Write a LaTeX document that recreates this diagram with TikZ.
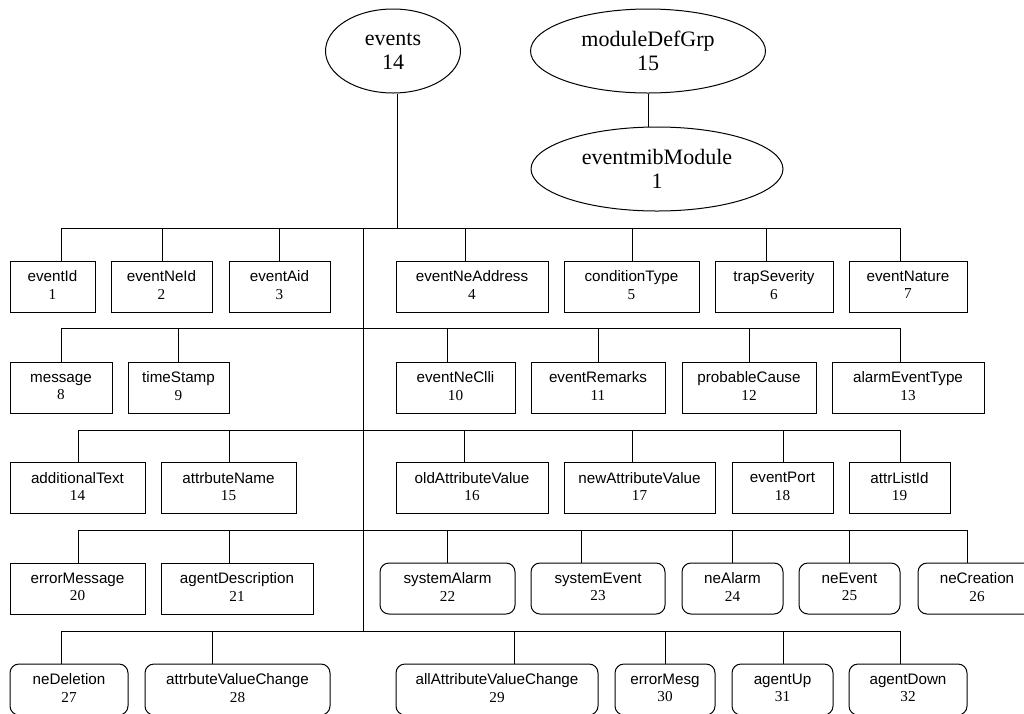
\documentclass[tikz,border=0pt]{standalone}
\usepackage{fontspec}
\setmainfont{Liberation Serif}
\newfontfamily\sansf{Liberation Sans}
\usetikzlibrary{shapes.geometric}
\begin{document}
\begin{tikzpicture}[x=1pt,y=-1pt,
  conn/.style={line width=1pt},
  oval/.style={draw,ellipse,line width=1pt,inner sep=0pt,align=center,font=\fontsize{22}{24}\selectfont},
  box/.style={draw,rectangle,line width=1pt,inner sep=0pt,minimum height=51pt,align=center,font=\fontsize{15.2}{17.5}\selectfont},
  rbox/.style={box,rounded corners=9pt}]
\useasboundingbox (0,0) rectangle (1024,713);
\clip (0,0) rectangle (1024,713);
% top ovals
\node[oval,minimum width=135pt,minimum height=84pt] (events) at (393,51) {events\\14};
\node[oval,minimum width=235pt,minimum height=84pt] (mdg) at (648,51) {moduleDefGrp\\15};
\node[oval,minimum width=252pt,minimum height=84pt] (emm) at (657,169) {eventmibModule\\1};
\draw[conn] (mdg.south) -- (mdg.south |- emm.north);
% boxes: name/label/num/x1/x2/ycenter/style
\foreach \n/\t/\k/\a/\b/\y/\s in {
  n1/eventId/1/10/95/286.5/box, n2/eventNeId/2/111/212/286.5/box, n3/eventAid/3/229/330/286.5/box,
  n4/eventNeAddress/4/396/548/286.5/box, n5/conditionType/5/564/699/286.5/box,
  n6/trapSeverity/6/715/833/286.5/box, n7/eventNature/7/849/967/286.5/box,
  n8/message/8/10/112/387.5/box, n9/timeStamp/9/128/229/387.5/box, n10/eventNeClli/10/396/515/387.5/box,
  n11/eventRemarks/11/531/665/387.5/box, n12/probableCause/12/682/816/387.5/box, n13/alarmEventType/13/832/984/387.5/box,
  n14/additionalText/14/10/145/488/box, n15/attrbuteName/15/161/296/488/box, n16/oldAttributeValue/16/396/548/488/box,
  n17/newAttributeValue/17/564/715/488/box, n18/eventPort/18/732/833/488/box, n19/attrListId/19/849/950/488/box,
  n20/errorMessage/20/10/145/588.5/box, n21/agentDescription/21/161/313/588.5/box, n22/systemAlarm/22/380/515/588.5/rbox,
  n23/systemEvent/23/531/665/588.5/rbox, n24/neAlarm/24/682/783/588.5/rbox, n25/neEvent/25/799/900/588.5/rbox,
  n26/neCreation/26/918/1036/588.5/rbox,
  n27/neDeletion/27/10/128/689.5/rbox, n28/attrbuteValueChange/28/145/330/689.5/rbox,
  n29/allAttributeValueChange/29/396/598/689.5/rbox, n30/errorMesg/30/615/715/689.5/rbox,
  n31/agentUp/31/732/833/689.5/rbox, n32/agentDown/32/849/967/689.5/rbox} {
  \pgfmathsetmacro\cx{(\a+\b)/2}
  \pgfmathsetmacro\w{\b-\a}
  \node[\s,minimum width=\w pt] (\n) at (\cx,\y) {{\sansf \t\vphantom{Agy}}\\\k\vphantom{Agy}};
}
% buses and trunk
\coordinate (e0) at (397,228);
\draw[conn] (events.south -| e0) -- (e0);
\coordinate (b1l) at (61,228);  \coordinate (b1r) at (900,228);
\coordinate (b2l) at (61,328);  \coordinate (b2r) at (900,328);
\coordinate (b3l) at (78,430);  \coordinate (b3r) at (900,430);
\coordinate (b4l) at (78,530);  \coordinate (b4r) at (967,530);
\coordinate (b5l) at (61,631);  \coordinate (b5r) at (900,631);
\coordinate (tr0) at (363,228); \coordinate (tr1) at (363,631);
\draw[conn] (b1l) -- (b1r);
\draw[conn] (b2l) -- (b2r);
\draw[conn] (b3l) -- (b3r);
\draw[conn] (b4l) -- (b4r);
\draw[conn] (b5l) -- (b5r);
\draw[conn] (tr0) -- (tr1);
% drops
\foreach \n/\x/\yb in {
  n1/61/228, n2/162/228, n3/279/228, n4/465/228, n5/632/228, n6/766/228, n7/900/228,
  n8/61/328, n9/178/328, n10/447/328, n11/598/328, n12/749/328, n13/900/328,
  n14/78/430, n15/229/430, n16/464/430, n17/632/430, n18/783/430, n19/900/430,
  n20/78/530, n21/229/530, n22/447/530, n23/581/530, n24/732/530, n25/849/530, n26/967/530,
  n27/61/631, n28/212/631, n29/514/631, n30/665/631, n31/783/631, n32/900/631} {
  \coordinate (d\n) at (\x,\yb);
  \draw[conn] (d\n) -- (d\n |- \n.north);
}
\end{tikzpicture}
\end{document}
